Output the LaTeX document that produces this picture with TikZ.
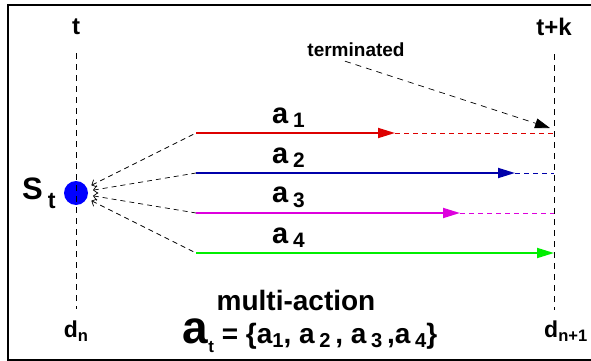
\documentclass[tikz,border=0pt]{standalone}
\usepackage{fontspec}
\setmainfont{Liberation Sans}
\usetikzlibrary{positioning,arrows.meta}
\definecolor{maRed}{HTML}{DD0000}
\definecolor{maBlue}{HTML}{0000AA}
\definecolor{maPink}{HTML}{DD00DD}
\definecolor{maGreen}{HTML}{00EE00}
\definecolor{maDot}{HTML}{0000FF}
\newcommand{\lowidx}[2][0.72]{\raisebox{-0.3ex}{\scalebox{#1}{#2}}}
\tikzset{
  ma-text/.style={font=\bfseries, inner sep=0pt, text=black},
  ma-time/.style={draw=black, line width=0.8pt, dash pattern=on 6pt off 5pt},
  ma-fan/.style={draw=black, line width=0.7pt, dash pattern=on 5pt off 4pt,
    {Straight Barb[length=4pt,width=8pt]}-},
  ma-act/.style={line width=1.8pt, -{Triangle[length=17pt,width=10pt]}},
  ma-rest/.style={line width=0.7pt, dash pattern=on 5pt off 4pt},
  ma-term/.style={draw=black, line width=0.7pt, dash pattern=on 6pt off 5pt,
    -{Triangle[length=15pt,width=10pt]}},
  ma-lab/.style={ma-text, font=\fontsize{29}{29}\selectfont\bfseries}
}

\begin{document}
\begin{tikzpicture}[x=1pt, y=-1pt,
  big/.style={ma-text, font=\fontsize{24}{24}\selectfont\bfseries},
  mid/.style={ma-text, font=\fontsize{23}{23}\selectfont\bfseries}
]
\useasboundingbox (0,0) rectangle (591,361);
\draw[line width=2pt] (591,5) -- (8,5) -- (8,360) -- (591,360);

% time axis
\node[big] (t) at (76,27) {t};
\node[big] (tk) at (554,27) {t+k};
\node[mid] (dn) at (76,331) {d\lowidx{n}};
\node[mid, anchor=west] (dn1) at (544,331) {d\lowidx{n+1}};

% state
\node[circle, fill=maDot, minimum size=24pt, inner sep=0pt] (st) at (76,193) {};
\node[ma-text, font=\fontsize{31}{31}\selectfont\bfseries, left=8pt of st]
  (stlab) {S\,\lowidx[0.75]{\raisebox{-0.3ex}{t}}};

\draw[ma-time, shorten <=18pt, shorten >=12pt] (t) -- (dn);
\draw[ma-time, shorten <=18pt] (tk) -- (tk |- 0,310);

% actions
\foreach \i/\y/\c/\e in {1/133/maRed/395, 2/173/maBlue/515,
                         3/213/maPink/460, 4/253/maGreen/554} {
  \coordinate (s\i) at (196,\y);
  \coordinate (e\i) at (\e,\y);
  \coordinate (f\i) at (554,\y);
  \draw[ma-fan, shorten <=5pt] (st) -- (s\i);
  \draw[ma-act, draw=\c] (s\i) -- (e\i);
  \ifnum\i<4 \draw[ma-rest, draw=\c] (e\i) -- (f\i); \fi
  \node[ma-lab, above right=5pt and 76pt of s\i] (a\i) {a\,\lowidx{\i}};
}

% termination
\node[mid, font=\fontsize{19}{19}\selectfont\bfseries] (term) at (356,50) {terminated};
\coordinate (tend) at (550,128);
\draw[ma-term] ([xshift=-11pt,yshift=-4pt]term.south) -- (tend);

% multi-action
\node[ma-text, font=\fontsize{28}{28}\selectfont\bfseries] (multi) at (296,300) {multi-action};
\node[ma-text, font=\fontsize{28}{28}\selectfont\bfseries, below=8pt of multi, xshift=14pt] (set)
  {{\fontsize{46}{46}\selectfont a}\raisebox{-0.6ex}{\fontsize{17}{17}\selectfont t}
   = \{a\lowidx{1}, a\,\lowidx{2}\,, a\,\lowidx{3}\,,a\,\lowidx{4}\}};
\end{tikzpicture}
\end{document}
